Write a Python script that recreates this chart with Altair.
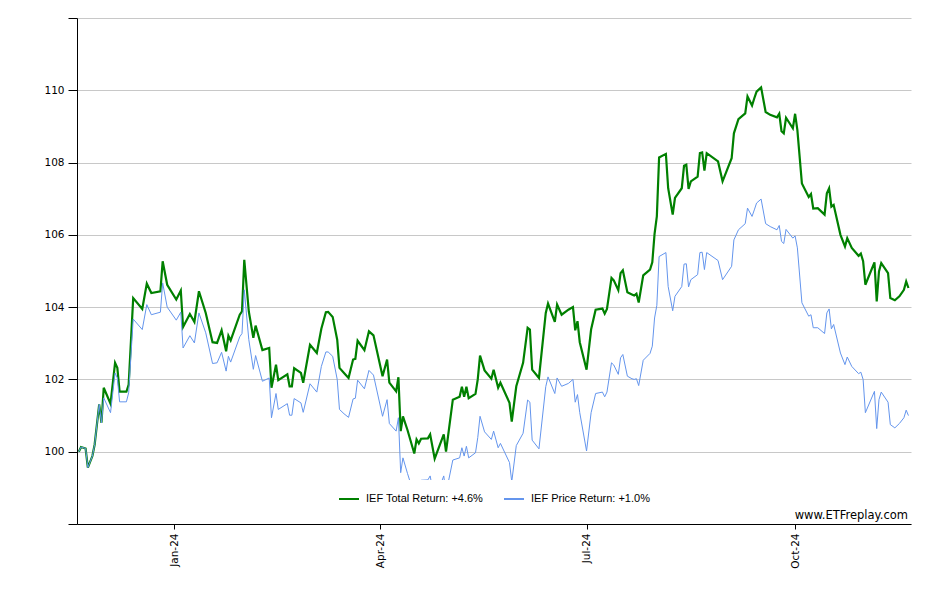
import altair as alt
import pandas as pd

dates = [
    "2023-11-20", "2023-11-21", "2023-11-23", "2023-11-24", "2023-11-26", "2023-11-27",
    "2023-11-29", "2023-11-30", "2023-12-01", "2023-12-04", "2023-12-06", "2023-12-07",
    "2023-12-08", "2023-12-11", "2023-12-12", "2023-12-14", "2023-12-18", "2023-12-20",
    "2023-12-22", "2023-12-26", "2023-12-27", "2023-12-29", "2024-01-02", "2024-01-04",
    "2024-01-05", "2024-01-08", "2024-01-10", "2024-01-12", "2024-01-15", "2024-01-18",
    "2024-01-20", "2024-01-22", "2024-01-24", "2024-01-25", "2024-01-26", "2024-01-30",
    "2024-01-31", "2024-02-01", "2024-02-03", "2024-02-05", "2024-02-06", "2024-02-09",
    "2024-02-12", "2024-02-13", "2024-02-15", "2024-02-16", "2024-02-20", "2024-02-21",
    "2024-02-22", "2024-02-23", "2024-02-26", "2024-02-27", "2024-03-01", "2024-03-04",
    "2024-03-06", "2024-03-08", "2024-03-09", "2024-03-11", "2024-03-13", "2024-03-14",
    "2024-03-16", "2024-03-18", "2024-03-20", "2024-03-21", "2024-03-22", "2024-03-25",
    "2024-03-27", "2024-03-29", "2024-04-02", "2024-04-04", "2024-04-05", "2024-04-08",
    "2024-04-09", "2024-04-10", "2024-04-11", "2024-04-13", "2024-04-16", "2024-04-17",
    "2024-04-18", "2024-04-19", "2024-04-22", "2024-04-23", "2024-04-25", "2024-04-29",
    "2024-04-30", "2024-05-03", "2024-05-06", "2024-05-07", "2024-05-08", "2024-05-09",
    "2024-05-10", "2024-05-13", "2024-05-14", "2024-05-15", "2024-05-17", "2024-05-20",
    "2024-05-21", "2024-05-23", "2024-05-24", "2024-05-28", "2024-05-29", "2024-05-31",
    "2024-06-03", "2024-06-05", "2024-06-06", "2024-06-07", "2024-06-10", "2024-06-13",
    "2024-06-14", "2024-06-17", "2024-06-18", "2024-06-20", "2024-06-23", "2024-06-25",
    "2024-06-26", "2024-06-27", "2024-06-28", "2024-07-01", "2024-07-03", "2024-07-05",
    "2024-07-08", "2024-07-09", "2024-07-10", "2024-07-12", "2024-07-13", "2024-07-15",
    "2024-07-16", "2024-07-17", "2024-07-19", "2024-07-21", "2024-07-22", "2024-07-23",
    "2024-07-24", "2024-07-26", "2024-07-29", "2024-07-30", "2024-07-31", "2024-08-01",
    "2024-08-02", "2024-08-05", "2024-08-06", "2024-08-08", "2024-08-09", "2024-08-12",
    "2024-08-13", "2024-08-14", "2024-08-15", "2024-08-16", "2024-08-19", "2024-08-20",
    "2024-08-21", "2024-08-22", "2024-08-23", "2024-08-28", "2024-08-30", "2024-09-03",
    "2024-09-04", "2024-09-06", "2024-09-09", "2024-09-10", "2024-09-12", "2024-09-13",
    "2024-09-14", "2024-09-16", "2024-09-18", "2024-09-20", "2024-09-23", "2024-09-24",
    "2024-09-25", "2024-09-26", "2024-09-27", "2024-09-30", "2024-10-01", "2024-10-02",
    "2024-10-04", "2024-10-07", "2024-10-08", "2024-10-09", "2024-10-11", "2024-10-14",
    "2024-10-15", "2024-10-16", "2024-10-17", "2024-10-18", "2024-10-21", "2024-10-23",
    "2024-10-24", "2024-10-26", "2024-10-29", "2024-10-30", "2024-10-31", "2024-11-01",
    "2024-11-05", "2024-11-06", "2024-11-07", "2024-11-08", "2024-11-11", "2024-11-12",
    "2024-11-14", "2024-11-16", "2024-11-18", "2024-11-19", "2024-11-20",
]

total_return = [
    100.00, 100.13, 100.09, 99.56, 99.88, 100.20,
    101.31, 100.80, 101.77, 101.33, 102.46, 102.32,
    101.66, 101.66, 101.86, 104.25, 103.95, 104.65,
    104.39, 104.44, 105.27, 104.62, 104.21, 104.46,
    103.45, 103.81, 103.59, 104.44, 103.84, 103.03,
    103.01, 103.36, 102.78, 103.21, 103.08, 103.79,
    103.88, 105.31, 103.88, 103.15, 103.49, 102.81,
    102.87, 101.77, 102.41, 101.98, 102.14, 101.81,
    101.81, 102.31, 102.18, 101.91, 102.96, 102.73,
    103.40, 103.86, 103.87, 103.73, 103.10, 102.32,
    102.18, 102.04, 102.55, 102.57, 103.07, 102.81,
    103.33, 103.22, 102.09, 102.55, 101.91, 101.67,
    102.06, 100.57, 100.98, 100.60, 99.95, 100.34,
    100.23, 100.36, 100.37, 100.48, 99.81, 100.48,
    100.00, 101.44, 101.52, 101.80, 101.52, 101.80,
    101.48, 101.60, 102.00, 102.66, 102.25, 102.02,
    102.27, 101.77, 101.91, 101.35, 100.83, 101.81,
    102.46, 103.43, 103.38, 102.27, 102.04, 103.84,
    104.10, 103.59, 104.07, 103.79, 103.93, 104.00,
    103.36, 103.61, 103.03, 102.27, 103.38, 103.93,
    103.96, 103.82, 103.95, 104.81, 104.74, 104.47,
    104.94, 105.02, 104.41, 104.35, 104.32, 104.37,
    104.13, 104.88, 105.04, 105.24, 106.03, 106.51,
    108.14, 108.24, 107.29, 106.56, 107.02, 107.29,
    107.91, 107.94, 107.27, 107.48, 107.61, 108.26,
    108.28, 107.78, 108.26, 108.03, 107.48, 108.12,
    108.81, 109.20, 109.36, 109.83, 109.58, 109.78,
    109.96, 110.08, 109.40, 109.32, 109.25, 109.35,
    108.87, 108.81, 109.24, 108.95, 109.35, 108.90,
    107.42, 107.05, 107.13, 106.73, 106.74, 106.56,
    107.15, 107.29, 106.78, 106.83, 106.00, 105.68,
    105.91, 105.64, 105.42, 105.48, 105.27, 104.62,
    105.24, 104.16, 104.99, 105.22, 104.94, 104.25,
    104.19, 104.30, 104.48, 104.71, 104.53,
]

price_return = [
    100.00, 100.13, 100.09, 99.56, 99.88, 100.20,
    101.31, 100.80, 101.49, 101.08, 102.18, 102.04,
    101.38, 101.38, 101.63, 103.67, 103.38, 104.07,
    103.79, 103.86, 104.67, 104.00, 103.64, 103.86,
    102.87, 103.21, 103.01, 103.84, 103.29, 102.44,
    102.46, 102.75, 102.23, 102.64, 102.48, 103.18,
    103.27, 104.48, 103.10, 102.28, 102.66, 101.95,
    102.04, 100.94, 101.61, 101.17, 101.33, 101.01,
    101.01, 101.47, 101.35, 101.09, 101.88, 101.65,
    102.36, 102.76, 102.76, 102.64, 102.00, 101.17,
    101.05, 100.95, 101.46, 101.48, 101.98, 101.74,
    102.25, 102.12, 100.98, 101.44, 100.78, 100.57,
    100.94, 99.42, 99.83, 99.40, 98.80, 99.19,
    99.08, 99.21, 99.22, 99.33, 98.66, 99.33,
    98.85, 99.77, 99.83, 100.11, 99.88, 100.15,
    99.83, 99.97, 100.39, 100.98, 100.55, 100.34,
    100.57, 100.11, 100.23, 99.70, 99.17, 100.17,
    100.51, 101.43, 101.37, 100.32, 100.08, 101.80,
    102.07, 101.61, 102.04, 101.81, 101.89, 102.00,
    101.37, 101.58, 101.08, 100.02, 101.08, 101.61,
    101.65, 101.52, 101.65, 102.46, 102.40, 102.14,
    102.60, 102.69, 102.09, 102.02, 102.00, 102.02,
    101.83, 102.53, 102.72, 102.92, 103.70, 104.05,
    105.40, 105.51, 104.57, 103.90, 104.30, 104.57,
    105.19, 105.20, 104.56, 104.76, 104.90, 105.51,
    105.52, 105.04, 105.51, 105.29, 104.76, 105.13,
    105.86, 106.14, 106.31, 106.74, 106.51, 106.69,
    106.88, 106.99, 106.31, 106.23, 106.14, 106.26,
    105.82, 105.76, 106.15, 105.91, 105.97, 105.64,
    104.12, 103.75, 103.79, 103.43, 103.43, 103.27,
    103.84, 103.95, 103.40, 103.52, 102.73, 102.41,
    102.62, 102.36, 102.16, 102.20, 102.00, 101.08,
    101.67, 100.64, 101.44, 101.65, 101.37, 100.75,
    100.66, 100.78, 100.94, 101.15, 101.00,
]

series_names = ["IEF Total Return: +4.6%", "IEF Price Return: +1.0%"]
series_colors = ["#008000", "#6495ED"]
series_widths = [2.2, 1.0]
y_ticks = [98, 100, 102, 104, 106, 108, 110, 112]
y_domain = [98, 112]
watermark = ["www.ETFreplay.com"]

n = len(dates)
df = pd.DataFrame({
    "date": dates + dates,
    "value": total_return + price_return,
    "series": [series_names[0]] * n + [series_names[1]] * n,
})

x_enc = alt.X(
    "date:T",
    scale=alt.Scale(
        type="utc",
        domain=[
            alt.DateTime(year=2023, month=11, date=19, hours=5, utc=True),
            alt.DateTime(year=2024, month=11, date=21, hours=3, utc=True),
        ],
    ),
    axis=alt.Axis(
        values=[
            alt.DateTime(year=2024, month=1, date=1, utc=True),
            alt.DateTime(year=2024, month=4, date=1, utc=True),
            alt.DateTime(year=2024, month=7, date=1, utc=True),
            alt.DateTime(year=2024, month=10, date=1, utc=True),
        ],
        format="%b-%y",
        labelAngle=270,
        tickSize=5,
        labelPadding=4,
        grid=False,
        domainColor="black",
        tickColor="black",
        labelColor="black",
        labelFont="DejaVu Sans",
        labelFontSize=10.5,
        title=None,
    ),
)

y_enc = alt.Y(
    "value:Q",
    scale=alt.Scale(domain=y_domain, nice=False, zero=False),
    axis=alt.Axis(
        values=y_ticks,
        labelExpr="datum.value >= 100 && datum.value <= 110 ? datum.label : ''",
        tickSize=9,
        labelPadding=4,
        domainColor="black",
        tickColor="black",
        gridColor="#c8c8c8",
        labelColor="black",
        labelFont="DejaVu Sans",
        labelFontSize=10.5,
        title=None,
    ),
)

color_enc = alt.Color(
    "series:N",
    scale=alt.Scale(domain=series_names, range=series_colors),
    legend=alt.Legend(
        title=None,
        orient="none",
        legendX=253,
        legendY=462,
        direction="horizontal",
        symbolType="stroke",
        symbolSize=400,
        symbolStrokeWidth=2,
        labelFont="Liberation Sans",
        labelFontSize=11,
        labelColor="black",
        fillColor="white",
        padding=8,
        columnPadding=16,
        labelOffset=6,
    ),
)

base = alt.Chart(df)

total_line = base.transform_filter(
    alt.datum.series == series_names[0]
).mark_line(strokeWidth=series_widths[0]).encode(x=x_enc, y=y_enc, color=color_enc)

price_line = base.transform_filter(
    alt.datum.series == series_names[1]
).mark_line(strokeWidth=series_widths[1]).encode(x=x_enc, y=y_enc, color=color_enc)

mark_txt = alt.Chart(pd.DataFrame({"t": watermark})).mark_text(
    align="right", baseline="middle", font="DejaVu Sans", fontSize=11.5, color="black"
).encode(x=alt.value(831), y=alt.value(497.5), text="t:N")

chart = alt.layer(total_line, price_line, mark_txt).properties(
    width=834,
    height=506,
    autosize=alt.AutoSizeParams(type="none"),
    padding={"left": 69, "top": 10, "right": 10, "bottom": 60},
).configure_view(stroke=None).configure_axis(domainWidth=1, tickWidth=1, gridWidth=1)

chart.save("out.html", embed_options={"renderer": "svg", "actions": False})
